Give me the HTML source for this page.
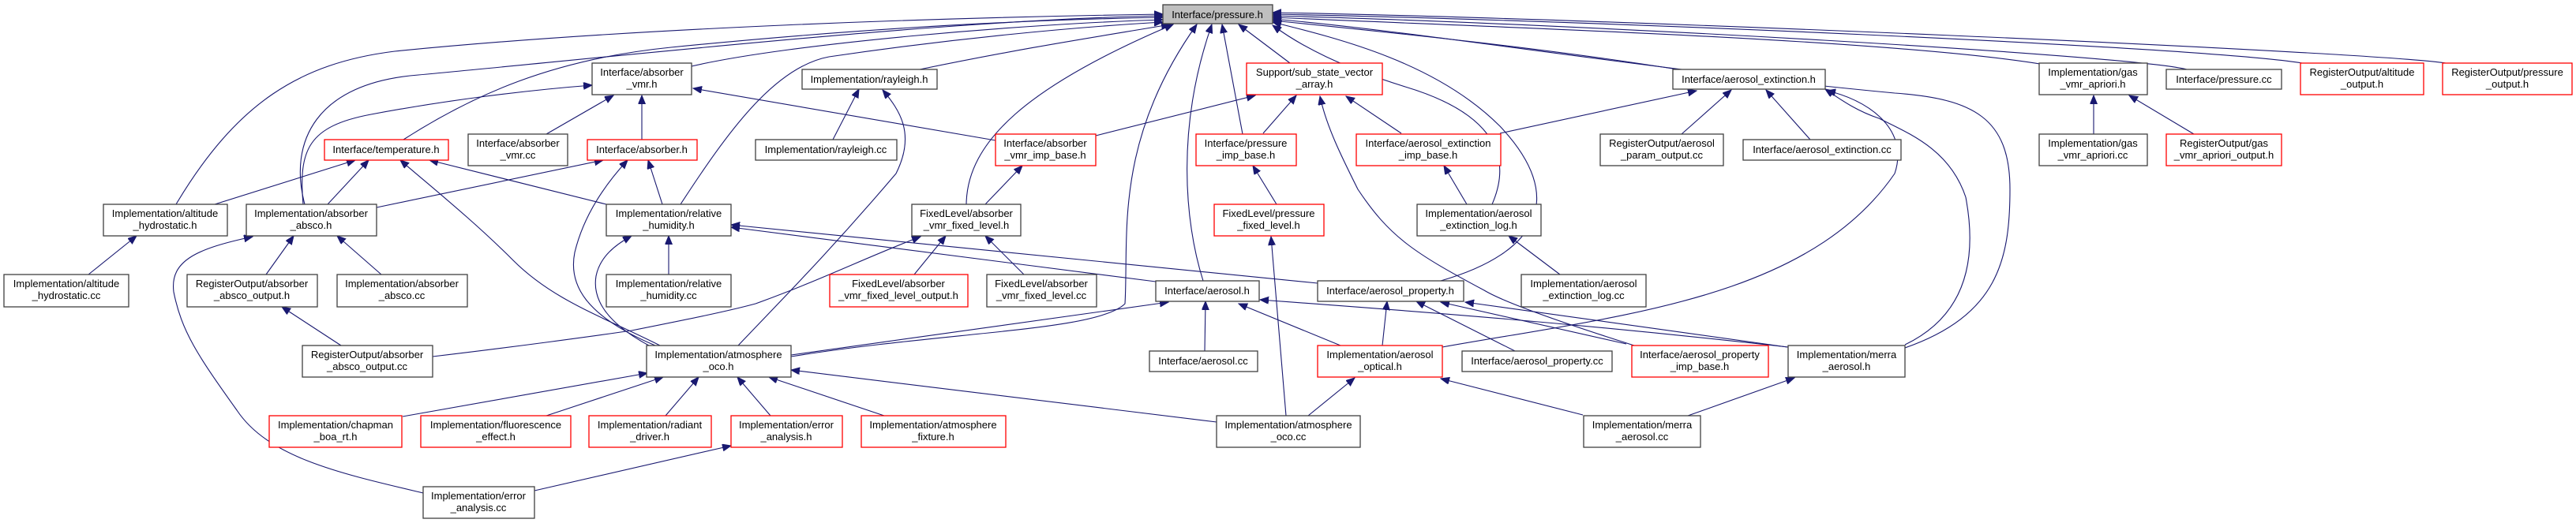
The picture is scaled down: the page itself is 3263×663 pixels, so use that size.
<!DOCTYPE html>
<html><head><meta charset="utf-8"><style>
html,body{margin:0;padding:0;background:#fff}
svg{display:block}
text{font-family:"Liberation Sans",sans-serif;font-size:13px;fill:#000;text-anchor:middle}
.b{fill:#fff;stroke:#404040;stroke-width:1.3}
.r{fill:#fff;stroke:#ff0000;stroke-width:1.3}
.g{fill:#bfbfbf;stroke:#404040;stroke-width:1.3}
path{fill:none;stroke:#191970;stroke-width:1.1;marker-end:url(#a)}
</style></head><body>
<svg width="3263" height="663" viewBox="0 0 3263 663" xmlns="http://www.w3.org/2000/svg">
<defs><marker id="a" markerUnits="userSpaceOnUse" markerWidth="12" markerHeight="10" refX="11" refY="4.5" orient="auto"><polygon points="0,0 11,4.5 0,9" fill="#191970" stroke="#191970"/></marker></defs>
<!-- edges to pressure.h -->
<path d="M223,259 C300,130 380,80 500,65 C800,35 1200,22 1473,18"/>
<path d="M386,259 C365,180 400,105 530,95 C800,70 1200,25 1473,20"/>
<path d="M511,177 C600,120 700,75 850,60 C1100,35 1300,25 1473,22"/>
<path d="M876,84 C1000,55 1300,30 1473,25"/>
<path d="M862,259 C920,170 980,85 1050,72 C1200,50 1350,35 1473,28"/>
<path d="M1165,88 C1300,60 1400,45 1482,31"/>
<path d="M1224,259 C1225,180 1300,110 1486,31"/>
<path d="M1002,452 C1200,420 1390,420 1425,385 C1430,300 1410,180 1516,31"/>
<path d="M1524,356 C1500,280 1490,160 1535,31"/>
<path d="M1574,170 L1548,31"/>
<path d="M1634,80 L1569,31"/>
<path d="M1890,259 C1920,190 1880,140 1780,110 C1700,85 1650,60 1612,32"/>
<path d="M1825,356 C1950,320 1985,250 1900,160 C1820,80 1700,50 1612,28"/>
<path d="M2125,88 C1950,60 1750,40 1612,26"/>
<path d="M2413,441 C2530,400 2546,330 2546,240 C2546,150 2500,125 2400,118 C2100,90 1800,40 1612,24"/>
<path d="M2590,82 C2400,50 1900,35 1612,22"/>
<path d="M2770,88 C2700,70 2000,30 1612,20"/>
<path d="M2916,80 C2800,60 2000,25 1612,18"/>
<path d="M3098,80 C3000,65 2000,22 1612,16"/>
<!-- other edges -->
<path d="M692,170 L777,121"/>
<path d="M813,177 L813,121"/>
<path d="M1261,178 L878,112"/>
<path d="M384,259 C378,190 390,160 470,145 C560,128 660,115 750,108"/>
<path d="M272,259 L450,203"/>
<path d="M415,259 L467,203"/>
<path d="M768,259 L544,203"/>
<path d="M836,438 C760,400 700,380 650,330 C600,280 550,240 507,203"/>
<path d="M477,263 L764,203"/>
<path d="M839,259 L821,203"/>
<path d="M830,438 C740,400 720,360 728,320 C740,270 770,230 795,203"/>
<path d="M112,348 L173,299"/>
<path d="M337,348 L372,299"/>
<path d="M483,348 L427,299"/>
<path d="M536,625 C430,600 340,580 300,520 C250,450 230,420 220,370 C215,330 250,315 320,300"/>
<path d="M432,438 L357,389"/>
<path d="M847,348 L847,299"/>
<path d="M822,438 C770,410 750,380 755,350 C760,325 780,310 800,299"/>
<path d="M1464,357 L926,288"/>
<path d="M1669,359 L926,285"/>
<path d="M1055,177 L1088,113"/>
<path d="M935,438 C990,380 1050,320 1135,220 C1160,170 1140,140 1118,114"/>
<path d="M1248,259 L1295,210"/>
<path d="M1388,172 L1590,121"/>
<path d="M1600,169 L1642,121"/>
<path d="M1775,169 L1705,122"/>
<path d="M2070,438 C1950,400 1900,380 1880,368 C1790,320 1760,300 1720,240 C1700,200 1680,160 1672,122"/>
<path d="M1617,259 L1587,210"/>
<path d="M1629,527 L1610,300"/>
<path d="M1158,348 L1198,299"/>
<path d="M1297,348 L1248,299"/>
<path d="M548,452 C650,440 760,425 800,419 C870,405 920,395 957,385 C1040,355 1100,325 1166,300"/>
<path d="M1002,450 L1480,383"/>
<path d="M1526,445 L1527,382"/>
<path d="M1698,438 L1569,385"/>
<path d="M2265,440 C2000,410 1800,395 1596,380"/>
<path d="M1900,169 L2149,115"/>
<path d="M2130,170 L2193,114"/>
<path d="M2293,177 L2237,114"/>
<path d="M2413,437 C2490,400 2505,330 2490,250 C2470,190 2420,170 2380,150 C2350,140 2330,125 2312,113"/>
<path d="M1827,440 C2050,400 2290,380 2400,220 C2420,160 2360,125 2314,115"/>
<path d="M1858,259 L1829,210"/>
<path d="M1976,348 L1911,299"/>
<path d="M1751,438 L1757,382"/>
<path d="M1919,445 L1794,382"/>
<path d="M2060,436 L1825,383"/>
<path d="M2264,440 L1856,383"/>
<path d="M1657,527 L1716,479"/>
<path d="M2005,526 L1825,480"/>
<path d="M2138,527 L2273,479"/>
<path d="M510,528 L820,473"/>
<path d="M692,527 L840,478"/>
<path d="M843,527 L885,478"/>
<path d="M976,527 L934,478"/>
<path d="M1120,527 L974,478"/>
<path d="M1541,535 L1002,469"/>
<path d="M677,622 L926,565"/>
<path d="M2652,170 L2652,121"/>
<path d="M2779,170 L2697,121"/>
<!-- nodes -->
<rect class="g" x="1473" y="6" width="139" height="24"/><text x="1542" y="23">Interface/pressure.h</text>
<rect class="b" x="750" y="80" width="126" height="40"/><text x="813" y="96">Interface/absorber</text><text x="813" y="111">_vmr.h</text>
<rect class="b" x="1016" y="88" width="171" height="25"/><text x="1101" y="105">Implementation/rayleigh.h</text>
<rect class="r" x="1579" y="80" width="172" height="40"/><text x="1665" y="96">Support/sub_state_vector</text><text x="1665" y="111">_array.h</text>
<rect class="b" x="2119" y="88" width="193" height="25"/><text x="2215" y="105">Interface/aerosol_extinction.h</text>
<rect class="b" x="2583" y="80" width="137" height="40"/><text x="2651" y="96">Implementation/gas</text><text x="2651" y="111">_vmr_apriori.h</text>
<rect class="b" x="2744" y="88" width="146" height="25"/><text x="2817" y="105">Interface/pressure.cc</text>
<rect class="r" x="2914" y="80" width="156" height="40"/><text x="2992" y="96">RegisterOutput/altitude</text><text x="2992" y="111">_output.h</text>
<rect class="r" x="3094" y="80" width="164" height="40"/><text x="3176" y="96">RegisterOutput/pressure</text><text x="3176" y="111">_output.h</text>
<rect class="r" x="411" y="177" width="157" height="26"/><text x="489" y="194">Interface/temperature.h</text>
<rect class="b" x="593" y="170" width="126" height="40"/><text x="656" y="186">Interface/absorber</text><text x="656" y="201">_vmr.cc</text>
<rect class="r" x="744" y="177" width="139" height="26"/><text x="813" y="194">Interface/absorber.h</text>
<rect class="b" x="957" y="177" width="179" height="26"/><text x="1046" y="194">Implementation/rayleigh.cc</text>
<rect class="r" x="1261" y="170" width="127" height="40"/><text x="1324" y="186">Interface/absorber</text><text x="1324" y="201">_vmr_imp_base.h</text>
<rect class="r" x="1515" y="170" width="127" height="40"/><text x="1578" y="186">Interface/pressure</text><text x="1578" y="201">_imp_base.h</text>
<rect class="r" x="1718" y="170" width="183" height="40"/><text x="1809" y="186">Interface/aerosol_extinction</text><text x="1809" y="201">_imp_base.h</text>
<rect class="b" x="2027" y="170" width="156" height="40"/><text x="2105" y="186">RegisterOutput/aerosol</text><text x="2105" y="201">_param_output.cc</text>
<rect class="b" x="2208" y="177" width="200" height="26"/><text x="2308" y="194">Interface/aerosol_extinction.cc</text>
<rect class="b" x="2583" y="170" width="137" height="40"/><text x="2651" y="186">Implementation/gas</text><text x="2651" y="201">_vmr_apriori.cc</text>
<rect class="r" x="2744" y="170" width="146" height="40"/><text x="2817" y="186">RegisterOutput/gas</text><text x="2817" y="201">_vmr_apriori_output.h</text>
<rect class="b" x="131" y="259" width="157" height="40"/><text x="209" y="275">Implementation/altitude</text><text x="209" y="290">_hydrostatic.h</text>
<rect class="b" x="312" y="259" width="165" height="40"/><text x="394" y="275">Implementation/absorber</text><text x="394" y="290">_absco.h</text>
<rect class="b" x="768" y="259" width="158" height="40"/><text x="847" y="275">Implementation/relative</text><text x="847" y="290">_humidity.h</text>
<rect class="b" x="1155" y="259" width="138" height="40"/><text x="1224" y="275">FixedLevel/absorber</text><text x="1224" y="290">_vmr_fixed_level.h</text>
<rect class="r" x="1538" y="259" width="139" height="40"/><text x="1607" y="275">FixedLevel/pressure</text><text x="1607" y="290">_fixed_level.h</text>
<rect class="b" x="1795" y="259" width="157" height="40"/><text x="1873" y="275">Implementation/aerosol</text><text x="1873" y="290">_extinction_log.h</text>
<rect class="b" x="5" y="348" width="158" height="41"/><text x="84" y="364">Implementation/altitude</text><text x="84" y="379">_hydrostatic.cc</text>
<rect class="b" x="237" y="348" width="165" height="41"/><text x="319" y="364">RegisterOutput/absorber</text><text x="319" y="379">_absco_output.h</text>
<rect class="b" x="427" y="348" width="165" height="41"/><text x="509" y="364">Implementation/absorber</text><text x="509" y="379">_absco.cc</text>
<rect class="b" x="768" y="348" width="158" height="41"/><text x="847" y="364">Implementation/relative</text><text x="847" y="379">_humidity.cc</text>
<rect class="r" x="1051" y="348" width="175" height="41"/><text x="1138" y="364">FixedLevel/absorber</text><text x="1138" y="379">_vmr_fixed_level_output.h</text>
<rect class="b" x="1250" y="348" width="139" height="41"/><text x="1319" y="364">FixedLevel/absorber</text><text x="1319" y="379">_vmr_fixed_level.cc</text>
<rect class="b" x="1464" y="356" width="131" height="26"/><text x="1529" y="373">Interface/aerosol.h</text>
<rect class="b" x="1669" y="356" width="185" height="26"/><text x="1761" y="373">Interface/aerosol_property.h</text>
<rect class="b" x="1927" y="348" width="158" height="41"/><text x="2006" y="364">Implementation/aerosol</text><text x="2006" y="379">_extinction_log.cc</text>
<rect class="b" x="383" y="438" width="165" height="40"/><text x="465" y="454">RegisterOutput/absorber</text><text x="465" y="469">_absco_output.cc</text>
<rect class="b" x="819" y="438" width="183" height="40"/><text x="910" y="454">Implementation/atmosphere</text><text x="910" y="469">_oco.h</text>
<rect class="b" x="1456" y="445" width="137" height="26"/><text x="1524" y="462">Interface/aerosol.cc</text>
<rect class="r" x="1669" y="438" width="158" height="40"/><text x="1748" y="454">Implementation/aerosol</text><text x="1748" y="469">_optical.h</text>
<rect class="b" x="1852" y="445" width="190" height="26"/><text x="1947" y="462">Interface/aerosol_property.cc</text>
<rect class="r" x="2067" y="438" width="173" height="40"/><text x="2153" y="454">Interface/aerosol_property</text><text x="2153" y="469">_imp_base.h</text>
<rect class="b" x="2265" y="438" width="148" height="40"/><text x="2339" y="454">Implementation/merra</text><text x="2339" y="469">_aerosol.h</text>
<rect class="r" x="341" y="527" width="168" height="40"/><text x="425" y="543">Implementation/chapman</text><text x="425" y="558">_boa_rt.h</text>
<rect class="r" x="533" y="527" width="190" height="40"/><text x="628" y="543">Implementation/fluorescence</text><text x="628" y="558">_effect.h</text>
<rect class="r" x="746" y="527" width="155" height="40"/><text x="823" y="543">Implementation/radiant</text><text x="823" y="558">_driver.h</text>
<rect class="r" x="926" y="527" width="141" height="40"/><text x="996" y="543">Implementation/error</text><text x="996" y="558">_analysis.h</text>
<rect class="r" x="1091" y="527" width="183" height="40"/><text x="1182" y="543">Implementation/atmosphere</text><text x="1182" y="558">_fixture.h</text>
<rect class="b" x="1541" y="527" width="182" height="40"/><text x="1632" y="543">Implementation/atmosphere</text><text x="1632" y="558">_oco.cc</text>
<rect class="b" x="2006" y="527" width="148" height="40"/><text x="2080" y="543">Implementation/merra</text><text x="2080" y="558">_aerosol.cc</text>
<rect class="b" x="536" y="617" width="141" height="40"/><text x="606" y="633">Implementation/error</text><text x="606" y="648">_analysis.cc</text>
</svg>
</body></html>
